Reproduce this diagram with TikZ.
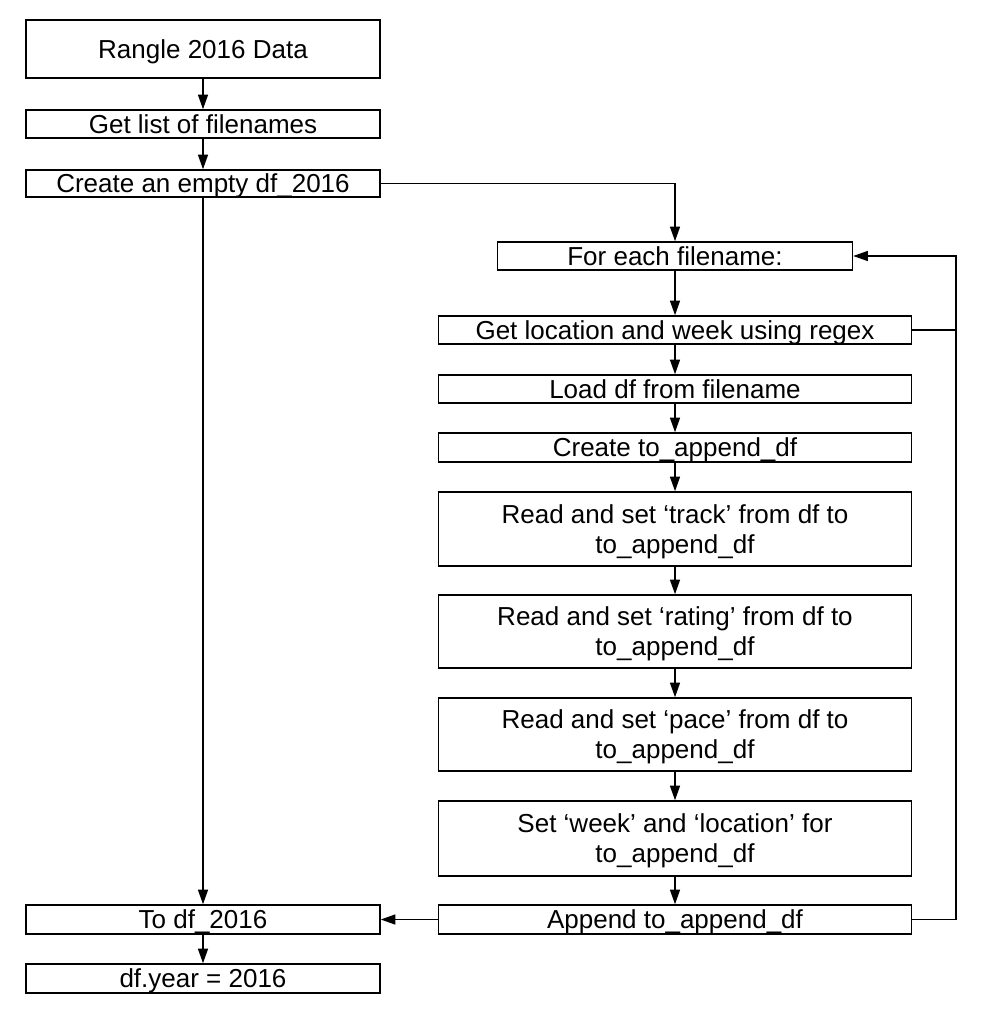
\documentclass[tikz,border=0pt]{standalone}
\usepackage{fontspec}
\setmainfont{Liberation Sans}
\usetikzlibrary{arrows.meta}
\begin{document}
\begin{tikzpicture}[x=0.75pt,y=-0.75pt,
  box/.style={draw,line width=1.1pt,minimum height=#1*0.75pt,inner sep=0pt,align=center,
    text height=14pt,text depth=0pt,font=\fontsize{19.5}{22.5}\selectfont},
  box/.default=28,
  lbox/.style={box=#1,minimum width=354*0.75pt},
  rbox/.style={box=#1,minimum width=473*0.75pt},
  two/.style={rbox=#1,text height=36.5pt},
  arr/.style={line width=1.1pt,-{Triangle[length=11pt,width=7.5pt]}},
  ln/.style={line width=1.1pt}]

\useasboundingbox (0,0) rectangle (990,1016);

% Linke Spalte
\node[lbox=58] (rangle) at (203,49) {Rangle 2016 Data};
\node[lbox=28] (list) at (203,124) {Get list of filenames};
\node[lbox=27] (empty) at (203,183.5) {Create an empty df\_2016};
\node[lbox=29] (todf) at (203,919.5) {To df\_2016};
\node[lbox=29] (year) at (203,978.5) {df.year = 2016};

% Schleife
\node[box=28,minimum width=355*0.75pt] (foreach) at (675,256) {For each filename:};
\node[rbox=28] (regex) at (675,330) {Get location and week using regex};
\node[rbox=28] (load) at (675,389) {Load df from filename};
\node[rbox=29] (create) at (675,447.5) {Create to\_append\_df};
\node[two=74] (track) at (675,529) {Read and set ‘track’ from df to\\to\_append\_df};
\node[two=73] (rating) at (675,631.5) {Read and set ‘rating’ from df to\\to\_append\_df};
\node[two=73] (pace) at (675,734.5) {Read and set ‘pace’ from df to\\to\_append\_df};
\node[two=75] (week) at (675,838.5) {Set ‘week’ and ‘location’ for\\to\_append\_df};
\node[rbox=29] (append) at (675,919.5) {Append to\_append\_df};
\coordinate (back) at (956,0);

% Pfeile
\draw[arr] (rangle) -- (list);
\draw[arr] (list) -- (empty);
\draw[arr] (empty.east) -| (foreach.north);
\draw[arr] (empty) -- (todf);
\draw[arr] (todf) -- (year);
\draw[arr] (foreach) -- (regex);
\draw[arr] (regex) -- (load);
\draw[arr] (load) -- (create);
\draw[arr] (create) -- (track);
\draw[arr] (track) -- (rating);
\draw[arr] (rating) -- (pace);
\draw[arr] (pace) -- (week);
\draw[arr] (week) -- (append);
\draw[arr] (append) -- (todf);
\draw[ln] (regex.east) -- (regex.east -| back);
\draw[arr] (append.east) -- (append.east -| back) |- (foreach.east);

\end{tikzpicture}
\end{document}
